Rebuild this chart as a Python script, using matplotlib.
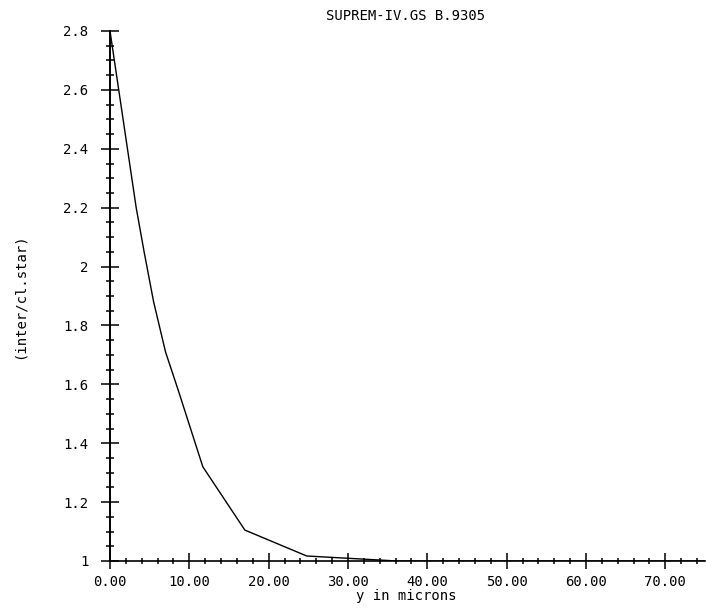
import matplotlib
matplotlib.use("Agg")
import matplotlib.pyplot as plt
from matplotlib.ticker import MultipleLocator

# profile
y_microns = [0, 3.3, 4.3, 5.5, 7.0, 8.6, 11.7, 17.0, 24.8, 36.2, 75.0]
ratio = [2.8, 2.2, 2.05, 1.88, 1.71, 1.58, 1.32, 1.105, 1.017, 1.0, 1.0]

x_ticks = [0, 10, 20, 30, 40, 50, 60, 70]
x_labels = ["0.00", "10.00", "20.00", "30.00", "40.00", "50.00", "60.00", "70.00"]
y_ticks = [1, 1.2, 1.4, 1.6, 1.8, 2, 2.2, 2.4, 2.6, 2.8]
y_labels = ["1", "1.2", "1.4", "1.6", "1.8", "2", "2.2", "2.4", "2.6", "2.8"]

W, H = 706, 610
FONT = "DejaVu Sans Mono"

fig = plt.figure(figsize=(W / 100, H / 100), dpi=100)
ax = fig.add_axes([110 / W, 49 / H, 595 / W, 530 / H])

ax.plot(y_microns, ratio, color="black", lw=1.0)

ax.set_xlim(0, 75)
ax.set_ylim(1, 2.8)
ax.spines["top"].set_visible(False)
ax.spines["right"].set_visible(False)
ax.spines["left"].set_linewidth(1.4)
ax.spines["bottom"].set_linewidth(1.2)

ax.set_xticks(x_ticks)
ax.set_xticklabels(x_labels, family=FONT, fontsize=10)
ax.set_yticks(y_ticks)
ax.set_yticklabels(y_labels, family=FONT, fontsize=10)
ax.xaxis.set_minor_locator(MultipleLocator(2))
ax.yaxis.set_minor_locator(MultipleLocator(0.05))

ax.tick_params(axis="y", which="major", direction="inout", length=13, width=1.1, pad=9)
ax.tick_params(axis="y", which="minor", direction="inout", length=6, width=1.1)
ax.tick_params(axis="x", which="major", direction="inout", length=11.5, width=1.1, pad=4)
ax.tick_params(axis="x", which="minor", direction="inout", length=5, width=1.1)

fig.text(406 / W, 1 - 16 / H, "SUPREM-IV.GS B.9305", family=FONT, fontsize=10,
         ha="center", va="center")
fig.text(406 / W, 10 / H, "y in microns", family=FONT, fontsize=10,
         ha="center", va="baseline")
fig.text(20 / W, 1 - 296 / H, "(inter/cl.star)", family=FONT, fontsize=10,
         ha="center", va="center", rotation=90)

fig.savefig("out.png", dpi=100)
